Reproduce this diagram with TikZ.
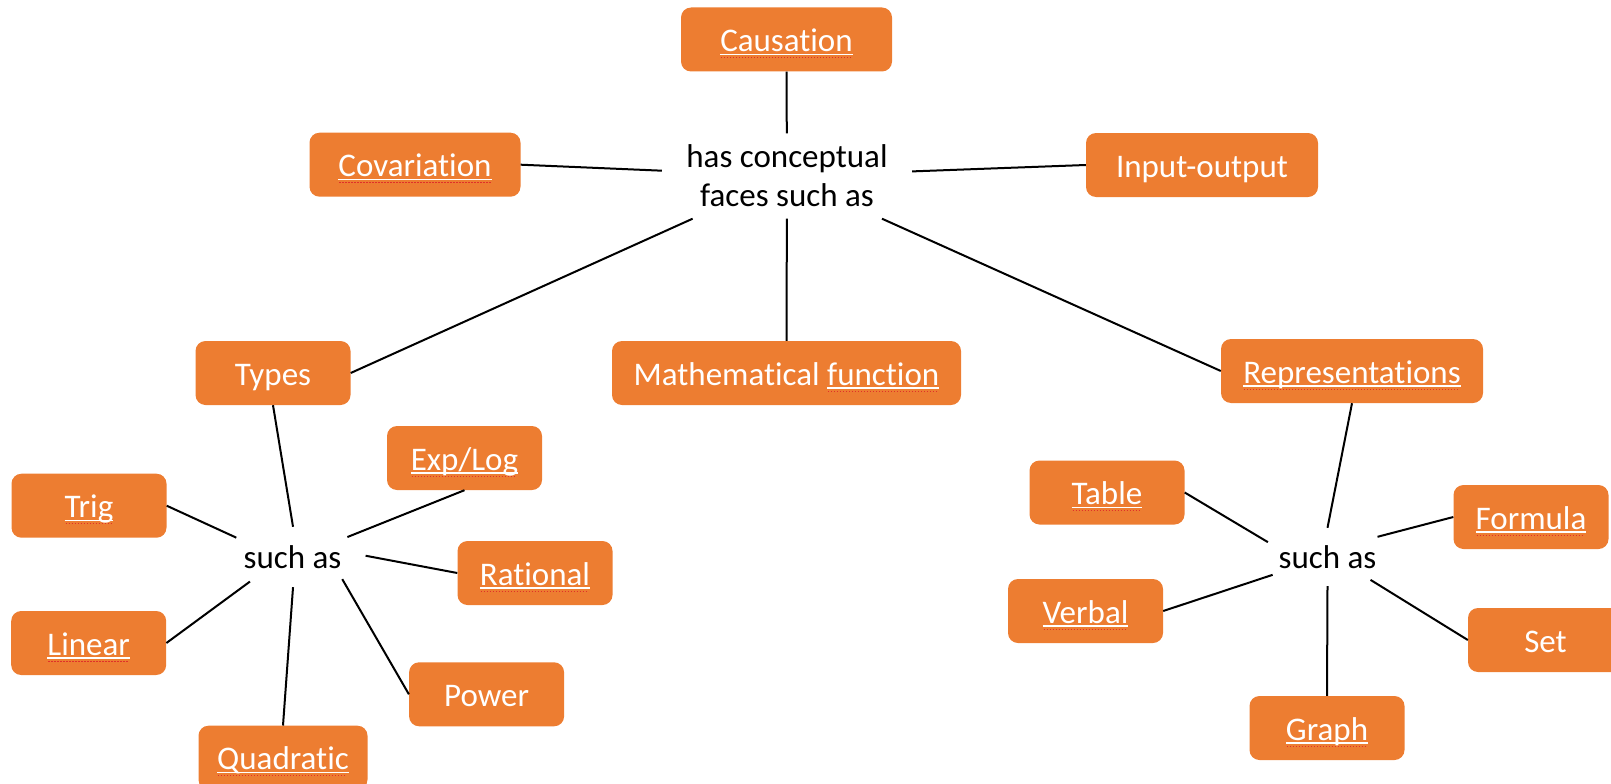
\documentclass[tikz,border=0pt]{standalone}
\usepackage{fontspec}
\setmainfont{Carlito}[Ligatures={NoCommon}]
\usetikzlibrary{shapes.geometric}
\definecolor{boxorange}{HTML}{ED7D31}
\definecolor{spellred}{HTML}{E0302A}
\newsavebox\ulbox
\newcommand\ulw[1]{\sbox\ulbox{#1}\rlap{\rule[-3.5pt]{\wd\ulbox}{1.3pt}}\rlap{\raisebox{-6.5pt}{\textcolor{spellred}{\leaders\hbox to 3pt{\hss\rule{1.2pt}{1pt}\hss}\hskip\wd\ulbox}}}\usebox\ulbox}
\begin{document}
\begin{tikzpicture}[x=1pt,y=-1pt,
  box/.style={fill=boxorange, draw=none, rounded corners=10pt, text=white,
    minimum height=64pt, inner sep=0pt, text height=30pt, text depth=6pt,
    font=\fontsize{33}{40}\selectfont},
  hubtext/.style={inner sep=0pt, align=center, font=\fontsize{33}{38.7}\selectfont},
  suchas/.style={shape=ellipse, inner sep=0pt, font=\fontsize{33}{40}\selectfont},
  conn/.style={draw=black, line width=2pt}]
\clip (0,0) rectangle (1611,784);
% top level
\node[box, minimum width=211pt] (causation) at (786.5,39.5) {\ulw{Causation}};
\node[box, minimum width=211pt] (covariation) at (415,164.7) {\ulw{Covariation}};
\node[box, minimum width=232pt] (inout) at (1202,165) {Input-output};
\node[hubtext, minimum width=250pt, minimum height=85pt] (hub) at (787,176) {has conceptual\\faces such as};
\node[box, minimum width=155pt] (types) at (273,373) {Types};
\node[box, minimum width=349pt] (mathfn) at (786.5,373) {Mathematical \ulw{function}};
\node[box, minimum width=262pt] (rep) at (1352,371) {\ulw{Representations}};
% left group
\node[suchas, minimum width=146pt, minimum height=60pt] (sa1) at (292.5,557) {such as};
\node[box, minimum width=155pt] (explog) at (464.5,458) {\ulw{Exp/Log}};
\node[box, minimum width=155pt] (trig) at (89,505.7) {\ulw{Trig}};
\node[box, minimum width=155pt] (rational) at (535,573) {\ulw{Rational}};
\node[box, minimum width=155pt] (linear) at (88.7,643) {\ulw{Linear}};
\node[box, minimum width=155pt] (power) at (486.6,694.3) {Power};
\node[box, minimum width=169pt] (quadratic) at (283,757.7) {\ulw{Quadratic}};
% right group
\node[suchas, minimum width=136pt, minimum height=58pt] (sa2) at (1327.5,557) {such as};
\node[box, minimum width=155pt] (ntable) at (1107,492.5) {\ulw{Table}};
\node[box, minimum width=155pt] (nformula) at (1531,517) {\ulw{Formula}};
\node[box, minimum width=155pt] (nverbal) at (1085.5,611) {\ulw{Verbal}};
\node[box, minimum width=155pt] (nset) at (1545.5,640) {Set};
\node[box, minimum width=155pt] (ngraph) at (1327,728) {\ulw{Graph}};
% connectors
\draw[conn] (causation.south) -- (hub);
\draw[conn] (covariation.east) -- (hub);
\draw[conn] (inout.west) -- (hub);
\draw[conn] (types.east) -- (hub);
\draw[conn] (mathfn.north) -- (hub);
\draw[conn] (rep.west) -- (hub);
\draw[conn] (types.south) -- (sa1.89);
\draw[conn] (trig.east) -- (sa1.161);
\draw[conn] (explog.south) -- (sa1.20);
\draw[conn] (rational.west) -- (sa1.1);
\draw[conn] (linear.east) -- (sa1.210);
\draw[conn] (quadratic.north) -- (sa1.-89);
\draw[conn] (power.west) -- (sa1.-24);
\draw[conn] (rep.south) -- (sa2.90);
\draw[conn] (ntable.east) -- (sa2.166);
\draw[conn] (nformula.west) -- (sa2.22);
\draw[conn] (nverbal.east) -- (sa2.198);
\draw[conn] (nset.west) -- (sa2.-28);
\draw[conn] (ngraph.north) -- (sa2.-90);
\end{tikzpicture}
\end{document}
